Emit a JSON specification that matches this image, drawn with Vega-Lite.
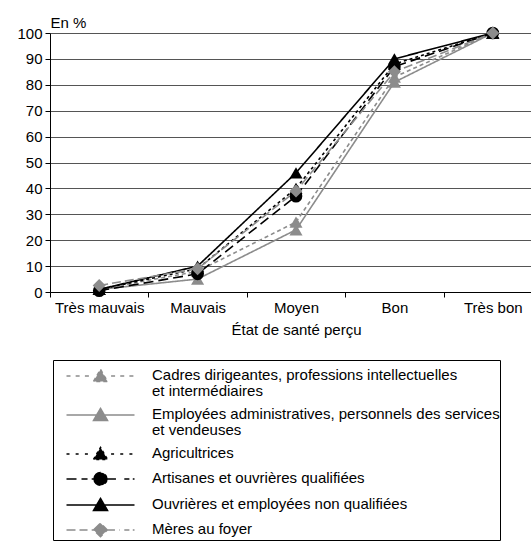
{
  "$schema": "https://vega.github.io/schema/vega-lite/v6.json",
  "autosize": "none",
  "padding": {"left": 50, "top": 33, "right": 0, "bottom": 249},
  "width": 481,
  "height": 259,
  "background": "white",
  "config": {
    "view": {"stroke": null},
    "font": "Liberation Sans",
    "style": {"guide-label": {"lineHeight": 16}},
    "axis": {"labelFont": "Liberation Sans", "titleFont": "Liberation Sans", "labelColor": "black", "titleColor": "black"}
  },
  "data": {
    "values": [
      {"etat": "Très mauvais", "cat": "Cadres dirigeantes, professions intellectuelles et intermédiaires", "v": 1},
      {"etat": "Mauvais", "cat": "Cadres dirigeantes, professions intellectuelles et intermédiaires", "v": 8},
      {"etat": "Moyen", "cat": "Cadres dirigeantes, professions intellectuelles et intermédiaires", "v": 27},
      {"etat": "Bon", "cat": "Cadres dirigeantes, professions intellectuelles et intermédiaires", "v": 83},
      {"etat": "Très bon", "cat": "Cadres dirigeantes, professions intellectuelles et intermédiaires", "v": 100},
      {"etat": "Très mauvais", "cat": "Employées administratives, personnels des services et vendeuses", "v": 1},
      {"etat": "Mauvais", "cat": "Employées administratives, personnels des services et vendeuses", "v": 5},
      {"etat": "Moyen", "cat": "Employées administratives, personnels des services et vendeuses", "v": 24},
      {"etat": "Bon", "cat": "Employées administratives, personnels des services et vendeuses", "v": 81},
      {"etat": "Très bon", "cat": "Employées administratives, personnels des services et vendeuses", "v": 100},
      {"etat": "Très mauvais", "cat": "Agricultrices", "v": 1},
      {"etat": "Mauvais", "cat": "Agricultrices", "v": 9},
      {"etat": "Moyen", "cat": "Agricultrices", "v": 40},
      {"etat": "Bon", "cat": "Agricultrices", "v": 88},
      {"etat": "Très bon", "cat": "Agricultrices", "v": 100},
      {"etat": "Très mauvais", "cat": "Artisanes et ouvrières qualifiées", "v": 0.5},
      {"etat": "Mauvais", "cat": "Artisanes et ouvrières qualifiées", "v": 7},
      {"etat": "Moyen", "cat": "Artisanes et ouvrières qualifiées", "v": 37},
      {"etat": "Bon", "cat": "Artisanes et ouvrières qualifiées", "v": 87},
      {"etat": "Très bon", "cat": "Artisanes et ouvrières qualifiées", "v": 100},
      {"etat": "Très mauvais", "cat": "Ouvrières et employées non qualifiées", "v": 1},
      {"etat": "Mauvais", "cat": "Ouvrières et employées non qualifiées", "v": 10},
      {"etat": "Moyen", "cat": "Ouvrières et employées non qualifiées", "v": 46},
      {"etat": "Bon", "cat": "Ouvrières et employées non qualifiées", "v": 90},
      {"etat": "Très bon", "cat": "Ouvrières et employées non qualifiées", "v": 100},
      {"etat": "Très mauvais", "cat": "Mères au foyer", "v": 2.5},
      {"etat": "Mauvais", "cat": "Mères au foyer", "v": 9},
      {"etat": "Moyen", "cat": "Mères au foyer", "v": 39},
      {"etat": "Bon", "cat": "Mères au foyer", "v": 85},
      {"etat": "Très bon", "cat": "Mères au foyer", "v": 100}
    ]
  },
  "encoding": {
    "x": {
      "field": "etat", "type": "nominal", "sort": ["Très mauvais", "Mauvais", "Moyen", "Bon", "Très bon"],
      "scale": {"type": "band", "range": [0, 492], "paddingInner": 0, "paddingOuter": 0},
      "axis": {"title": "État de santé perçu", "titleFontWeight": "normal", "titleFontSize": 15, "titlePadding": 7,
        "labelFontSize": 15, "labelAngle": 0, "labelPadding": 3, "tickSize": 5, "tickBand": "extent",
        "domainColor": "black", "tickColor": "black", "grid": false}
    },
    "y": {
      "field": "v", "type": "quantitative",
      "scale": {"domain": [0, 100], "nice": false},
      "axis": {"title": "En %", "titleAngle": 0, "titleX": 0, "titleY": -6, "titleAlign": "left", "titleBaseline": "alphabetic",
        "titleFontWeight": "normal", "titleFontSize": 15, "values": [0,10,20,30,40,50,60,70,80,90,100],
        "labelFontSize": 15, "labelPadding": 3, "tickSize": 5, "domainColor": "black", "tickColor": "black",
        "grid": true, "gridColor": "#555555", "gridOpacity": 1, "gridWidth": 1}
    }
  },
  "layer": [
    {
      "mark": {"type": "point", "filled": true, "size": 0},
      "encoding": {
        "shape": {"field": "cat", "type": "nominal", "title": null,
          "scale": {"domain": ["Cadres dirigeantes, professions intellectuelles et intermédiaires", "Employées administratives, personnels des services et vendeuses", "Agricultrices", "Artisanes et ouvrières qualifiées", "Ouvrières et employées non qualifiées", "Mères au foyer"],
            "range": [
              "M-17,4.2H-14.45M-12.43,4.2H-9.87M-7.8,4.2H-5.29M5.29,4.2H7.8M9.87,4.2H12.43M14.45,4.2H17M-3.5,6.95L0,0.95L3.5,6.95Z",
              "M-17,4.2H17M-3.5,6.95L0,0.95L3.5,6.95Z",
              "M-17,4.2H-14.45M-12.43,4.2H-9.87M-7.8,4.2H-5.29M5.29,4.2H7.8M9.87,4.2H12.43M14.45,4.2H17M-3.5,6.95L0,0.95L3.5,6.95Z",
              "M-17,4.2H-6.48M-4.41,4.2H-2.73M2.73,4.2H9.52M11.9,4.2H14.45M16.14,4.2H17M-3.22,4.2A3.22,3.22 0 1,0 3.22,4.2A3.22,3.22 0 1,0 -3.22,4.2Z",
              "M-17,4.2H17M-3.5,6.95L0,0.95L3.5,6.95Z",
              "M-17,4.2H-6.48M-4.41,4.2H-2.73M2.73,4.2H9.52M11.9,4.2H14.45M16.14,4.2H17M-3.4,4.2L0,0.8L3.4,4.2L0,7.6Z"
            ]},
          "legend": {"orient": "none", "legendX": 3, "legendY": 327, "padding": 0, "strokeColor": "black", "fillColor": "white",
            "symbolSize": 16, "symbolStrokeWidth": 1.5, "symbolOpacity": 1, "symbolOffset": 40, "labelOffset": 44,
            "labelFontSize": 15, "labelFont": "Liberation Sans", "labelColor": "black", "labelLimit": 700, "rowPadding": 0,
            "labelBaseline": "top",
            "labelExpr": "datum.label == 'Cadres dirigeantes, professions intellectuelles et intermédiaires' ? ['Cadres dirigeantes, professions intellectuelles', 'et intermédiaires'] : datum.label == 'Employées administratives, personnels des services et vendeuses' ? ['Employées administratives, personnels des services\u00a0\u00a0\u00a0\u00a0\u00a0\u00a0\u00a0\u00a0\u00a0\u00a0', 'et vendeuses'] : datum.label"}
        },
        "fill": {"field": "cat", "type": "nominal", "title": null,
          "scale": {"domain": ["Cadres dirigeantes, professions intellectuelles et intermédiaires", "Employées administratives, personnels des services et vendeuses", "Agricultrices", "Artisanes et ouvrières qualifiées", "Ouvrières et employées non qualifiées", "Mères au foyer"],
            "range": ["#8c8c8c", "#8c8c8c", "#000000", "#000000", "#000000", "#8c8c8c"]}},
        "stroke": {"field": "cat", "type": "nominal", "title": null,
          "scale": {"domain": ["Cadres dirigeantes, professions intellectuelles et intermédiaires", "Employées administratives, personnels des services et vendeuses", "Agricultrices", "Artisanes et ouvrières qualifiées", "Ouvrières et employées non qualifiées", "Mères au foyer"],
            "range": ["#8c8c8c", "#8c8c8c", "#000000", "#000000", "#000000", "#8c8c8c"]}}
      }
    },
    {
      "mark": {"type": "line", "strokeWidth": 1.6},
      "encoding": {
        "color": {"field": "cat", "type": "nominal", "legend": null,
          "scale": {"domain": ["Cadres dirigeantes, professions intellectuelles et intermédiaires", "Employées administratives, personnels des services et vendeuses", "Agricultrices", "Artisanes et ouvrières qualifiées", "Ouvrières et employées non qualifiées", "Mères au foyer"],
            "range": ["#8c8c8c", "#8c8c8c", "#000000", "#000000", "#000000", "#8c8c8c"]}},
        "strokeDash": {"field": "cat", "type": "nominal", "legend": null,
          "scale": {"domain": ["Cadres dirigeantes, professions intellectuelles et intermédiaires", "Employées administratives, personnels des services et vendeuses", "Agricultrices", "Artisanes et ouvrières qualifiées", "Ouvrières et employées non qualifiées", "Mères au foyer"],
            "range": [[4, 3], [1, 0], [3, 3], [10, 5], [1, 0], [9, 4]]}}
      }
    },
    {
      "transform": [{"filter": "datum.cat != 'Artisanes et ouvrières qualifiées' && datum.cat != 'Mères au foyer'"}],
      "mark": {"type": "point", "shape": "triangle-up", "filled": true, "opacity": 1, "size": 170},
      "encoding": {"color": {"field": "cat", "type": "nominal", "legend": null}}
    },
    {
      "transform": [{"filter": "datum.cat == 'Artisanes et ouvrières qualifiées'"}],
      "mark": {"type": "point", "shape": "circle", "filled": true, "opacity": 1, "size": 160},
      "encoding": {"color": {"field": "cat", "type": "nominal", "legend": null}}
    },
    {
      "transform": [{"filter": "datum.cat == 'Mères au foyer'"}],
      "mark": {"type": "point", "shape": "diamond", "filled": true, "opacity": 1, "size": 170},
      "encoding": {"color": {"field": "cat", "type": "nominal", "legend": null}}
    }
  ]
}
